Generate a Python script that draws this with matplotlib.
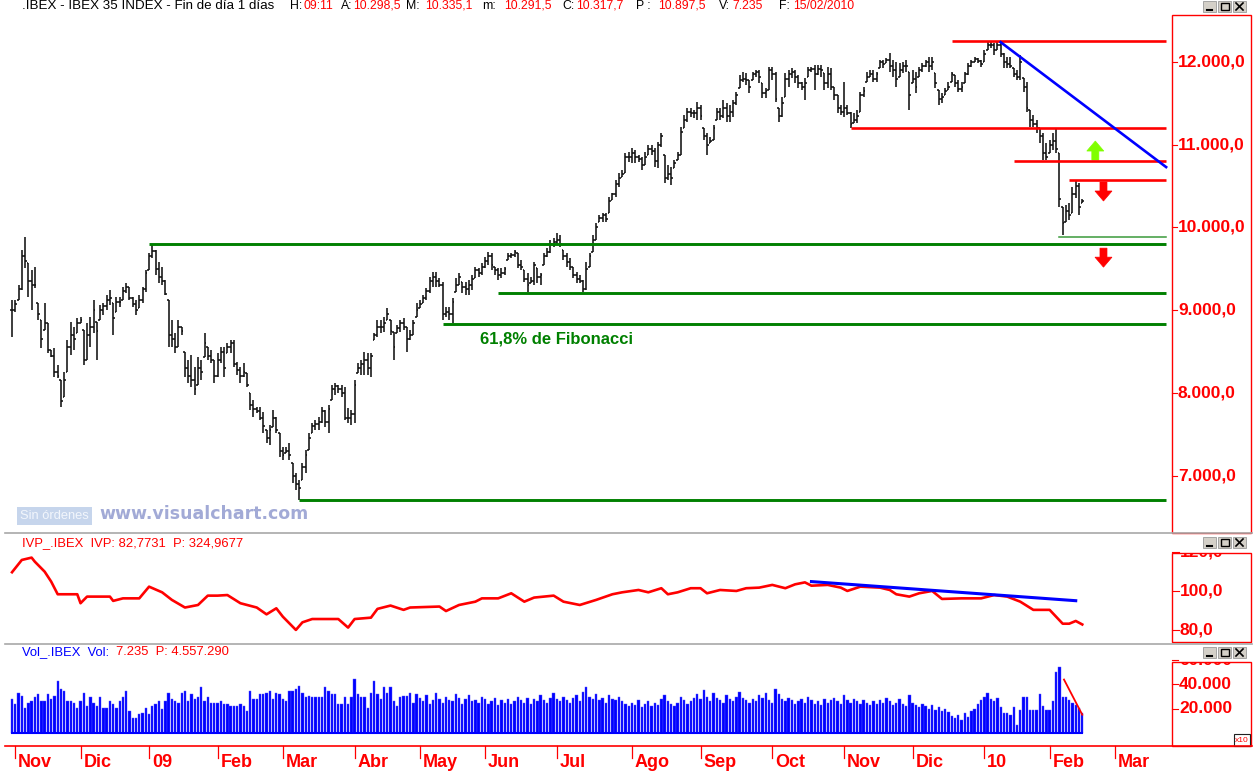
import numpy as np
import pandas as pd
import matplotlib
matplotlib.use('Agg')
import matplotlib.pyplot as plt
from matplotlib.collections import LineCollection
from matplotlib.patches import Rectangle, Polygon
from matplotlib.lines import Line2D
from matplotlib.transforms import blended_transform_factory, ScaledTranslation

plt.rcParams['font.family'] = ['Liberation Sans', 'DejaVu Sans']

W, H = 1257, 775

# trading days (Bolsa de Madrid)
holidays = ['2008-12-25', '2008-12-26', '2009-01-01', '2009-04-10', '2009-04-13',
            '2009-05-01', '2009-12-25', '2010-01-01']
dates = pd.bdate_range('2008-10-31', '2010-03-31')
dates = dates[~dates.isin(pd.to_datetime(holidays))]

high = [
    9120, 9120, 9300, 9730, 9890, 9570, 9490, 9520, 9090, 8880,
    9090, 8850, 8520, 8540, 8340, 8160, 8250, 8640, 8860, 8800,
    8910, 8920, 8760, 8850, 8920, 9120, 8860, 9060, 9090, 9180,
    9240, 9090, 9160, 9160, 9280, 9330, 9280, 9160, 9120, 9180,
    9280, 9490, 9690, 9790, 9730, 9580, 9520, 9370, 9120, 8880,
    8720, 8880, 8800, 8490, 8400, 8460, 8310, 8430, 8400, 8720,
    8560, 8520, 8400, 8480, 8560, 8560, 8600, 8640, 8640, 8370,
    8310, 8360, 8240, 8000, 7910, 7830, 7830, 7770, 7550, 7610,
    7790, 7710, 7520, 7350, 7350, 7390, 7150, 7030, 6950, 7150,
    7310, 7520, 7640, 7670, 7710, 7830, 7790, 7850, 8100, 8120,
    8100, 8100, 8070, 7820, 7790, 8160, 8360, 8400, 8490, 8480,
    8480, 8720, 8880, 8880, 8920, 9030, 8880, 8740, 8820, 8880,
    8910, 8800, 8760, 8880, 9090, 9120, 9180, 9270, 9400, 9460,
    9460, 9390, 9340, 9040, 9040, 9150, 9390, 9450, 9340, 9340,
    9370, 9430, 9520, 9510, 9570, 9640, 9700, 9690, 9520, 9510,
    9510, 9520, 9690, 9690, 9730, 9690, 9610, 9490, 9450, 9400,
    9580, 9510, 9450, 9690, 9750, 9850, 9870, 9930, 9910, 9730,
    9690, 9630, 9520, 9460, 9430, 9370, 9580, 9690, 9910, 10050,
    10150, 10180, 10180, 10370, 10420, 10570, 10660, 10700, 10900, 10910,
    10960, 10940, 10880, 10850, 10910, 11000, 11000, 10960, 11030, 11140,
    10880, 10760, 10730, 10820, 10910, 11220, 11360, 11440, 11440, 11420,
    11520, 11480, 11200, 11140, 11090, 11240, 11440, 11440, 11540, 11510,
    11480, 11540, 11640, 11840, 11880, 11870, 11780, 11880, 11900, 11900,
    11750, 11690, 11940, 11940, 11880, 11440, 11580, 11870, 11900, 11930,
    11900, 11840, 11760, 11810, 11940, 11940, 11960, 11960, 11960, 11870,
    11940, 11930, 11700, 11600, 11480, 11760, 11480, 11400, 11380, 11420,
    11640, 11700, 11880, 11900, 11900, 11880, 12020, 12020, 12050, 12110,
    12020, 12000, 11990, 12000, 12020, 11880, 11900, 11880, 11940, 11990,
    12020, 12060, 12060, 11870, 11660, 11630, 11690, 11760, 11880, 11840,
    11780, 11760, 11880, 11990, 12020, 12060, 12050, 12020, 12150, 12240,
    12240, 12230, 12240, 12230, 12110, 12060, 12060, 11930, 11900, 12090,
    11810, 11760, 11420, 11360, 11300, 11200, 11140, 11020, 11060, 11140,
    11200, 10900, 10250, 10270, 10300, 10490, 10570, 10540, 10340,
]
low = [
    8680, 8980, 9120, 9240, 9510, 9160, 9000, 9270, 8880, 8540,
    8760, 8480, 8430, 8190, 8180, 7830, 7950, 8250, 8460, 8520,
    8720, 8850, 8340, 8400, 8560, 8720, 8400, 8880, 8940, 9000,
    9060, 8700, 8980, 9040, 9120, 9210, 9120, 9040, 8940, 9030,
    9090, 9220, 9490, 9630, 9430, 9330, 9300, 9180, 8560, 8560,
    8480, 8560, 8700, 8190, 8120, 8070, 7970, 8100, 8160, 8430,
    8400, 8360, 8120, 8190, 8360, 8190, 8480, 8480, 8310, 8220,
    8120, 8190, 8070, 7790, 7710, 7760, 7670, 7520, 7390, 7370,
    7590, 7520, 7230, 7190, 7270, 7190, 6910, 6830, 6710, 6950,
    7030, 7310, 7520, 7550, 7550, 7640, 7590, 7520, 7910, 7970,
    8000, 7950, 7670, 7640, 7610, 7640, 8240, 8220, 8220, 8220,
    8190, 8640, 8680, 8720, 8740, 8880, 8700, 8400, 8720, 8740,
    8760, 8490, 8640, 8700, 8920, 9030, 9090, 9120, 9210, 9280,
    9280, 9280, 8880, 8920, 8880, 8840, 9220, 9300, 9210, 9180,
    9180, 9240, 9390, 9400, 9430, 9510, 9550, 9490, 9430, 9370,
    9390, 9430, 9610, 9630, 9640, 9510, 9490, 9340, 9220, 9330,
    9300, 9330, 9300, 9550, 9640, 9690, 9760, 9790, 9760, 9610,
    9520, 9490, 9390, 9330, 9330, 9220, 9240, 9520, 9700, 9850,
    10070, 10070, 10070, 10180, 10330, 10370, 10490, 10610, 10660, 10790,
    10780, 10780, 10790, 10700, 10760, 10880, 10880, 10730, 10720, 10970,
    10540, 10570, 10510, 10720, 10820, 10880, 11200, 11280, 11340, 11320,
    11300, 11300, 11060, 10880, 11020, 11060, 11300, 11300, 11320, 11280,
    11280, 11340, 11480, 11690, 11760, 11720, 11630, 11780, 11820, 11750,
    11570, 11570, 11660, 11780, 11520, 11280, 11340, 11580, 11700, 11810,
    11750, 11690, 11660, 11540, 11820, 11880, 11660, 11840, 11820, 11660,
    11690, 11660, 11540, 11380, 11360, 11340, 11360, 11200, 11260, 11260,
    11400, 11580, 11760, 11820, 11760, 11760, 11930, 11930, 11990, 11880,
    11820, 11700, 11820, 11870, 11880, 11420, 11750, 11630, 11820, 11880,
    11940, 11880, 11900, 11690, 11480, 11510, 11600, 11660, 11760, 11700,
    11640, 11640, 11750, 11840, 11940, 12000, 11990, 11940, 12000, 12150,
    12170, 12090, 12150, 12060, 11930, 11930, 11930, 11820, 11780, 11780,
    11640, 11400, 11220, 11220, 11140, 11020, 10820, 10820, 10900, 10940,
    10900, 10250, 9910, 10070, 10090, 10180, 10360, 10150, 10290,
]
close = [
    9000, 9080, 9250, 9650, 9600, 9350, 9300, 9300, 8950, 8650,
    8850, 8520, 8450, 8250, 8200, 7900, 8150, 8550, 8700, 8650,
    8850, 8880, 8400, 8700, 8800, 9000, 8750, 9000, 9050, 9120,
    9150, 8900, 9100, 9100, 9230, 9280, 9150, 9080, 9000, 9120,
    9250, 9450, 9650, 9720, 9500, 9400, 9350, 9200, 8700, 8650,
    8550, 8800, 8750, 8300, 8200, 8150, 8050, 8300, 8250, 8600,
    8450, 8400, 8200, 8400, 8500, 8300, 8550, 8600, 8350, 8280,
    8200, 8250, 8100, 7850, 7800, 7780, 7700, 7600, 7450, 7550,
    7700, 7550, 7300, 7250, 7300, 7250, 7000, 6900, 6850, 7100,
    7250, 7450, 7600, 7620, 7650, 7780, 7650, 7800, 8050, 8080,
    8050, 8000, 7700, 7700, 7750, 8100, 8300, 8350, 8400, 8300,
    8450, 8700, 8800, 8800, 8850, 8950, 8750, 8550, 8780, 8850,
    8800, 8650, 8700, 8850, 9000, 9080, 9150, 9230, 9350, 9400,
    9350, 9300, 8950, 8980, 8950, 9100, 9300, 9400, 9280, 9250,
    9300, 9380, 9480, 9450, 9520, 9600, 9650, 9550, 9480, 9420,
    9450, 9500, 9650, 9670, 9700, 9550, 9520, 9380, 9300, 9350,
    9550, 9400, 9420, 9650, 9700, 9800, 9820, 9850, 9800, 9650,
    9580, 9520, 9420, 9380, 9350, 9250, 9500, 9650, 9850, 10000,
    10120, 10150, 10100, 10320, 10400, 10520, 10600, 10650, 10850, 10850,
    10900, 10850, 10830, 10750, 10850, 10950, 10920, 10800, 11000, 11100,
    10600, 10650, 10600, 10780, 10880, 11150, 11300, 11400, 11380, 11380,
    11450, 11350, 11100, 11000, 11050, 11200, 11400, 11350, 11450, 11350,
    11400, 11500, 11600, 11780, 11800, 11780, 11700, 11850, 11880, 11820,
    11620, 11650, 11900, 11850, 11550, 11350, 11500, 11800, 11850, 11880,
    11820, 11750, 11700, 11750, 11900, 11920, 11850, 11920, 11900, 11750,
    11850, 11700, 11600, 11450, 11400, 11450, 11380, 11250, 11300, 11350,
    11600, 11650, 11820, 11860, 11800, 11850, 12000, 11980, 12020, 11950,
    11900, 11800, 11900, 11950, 11950, 11600, 11800, 11700, 11900, 11950,
    12000, 11950, 12000, 11750, 11550, 11580, 11650, 11700, 11850, 11750,
    11680, 11700, 11850, 11950, 12000, 12040, 12010, 11980, 12100, 12200,
    12200, 12150, 12200, 12100, 12000, 11980, 11950, 11850, 11820, 12000,
    11700, 11450, 11300, 11250, 11200, 11100, 10900, 10850, 11000, 11050,
    10950, 10350, 10050, 10200, 10150, 10400, 10500, 10250, 10320,
]
volume = [
    27800, 23600, 33300, 30500, 20800, 25000, 26400, 29200, 31900, 26400,
    26400, 31900, 27800, 30500, 43000, 36100, 34700, 26400, 26400, 25000,
    20800, 26400, 33300, 22200, 29200, 25000, 22200, 29200, 20800, 20800,
    26400, 23600, 20800, 26400, 29200, 34700, 18000, 12500, 12500, 15300,
    16700, 20800, 15300, 22200, 23600, 26400, 19400, 26400, 33300, 27800,
    26400, 25000, 33300, 34700, 26400, 31900, 27800, 29200, 37500, 26400,
    29200, 25000, 25000, 25000, 26400, 23600, 23600, 22200, 22200, 22200,
    23600, 22200, 18000, 34700, 27800, 27800, 31900, 31900, 33300, 34700,
    27800, 33300, 31900, 27800, 26400, 34700, 34700, 36100, 38900, 33300,
    29200, 30500, 29200, 29200, 29200, 29200, 37500, 34700, 31900, 31900,
    23600, 23600, 29200, 23600, 29200, 44400, 31900, 29200, 29200, 20800,
    33300, 43000, 31900, 27800, 37500, 33300, 37500, 26400, 22200, 29200,
    30500, 30500, 33300, 25000, 31900, 29000, 26000, 31000, 24000, 27000,
    33000, 28000, 25000, 30000, 27000, 26000, 32000, 29000, 24000, 28000,
    31000, 26000, 27000, 25000, 30000, 28000, 24000, 26000, 29000, 23000,
    27000, 25000, 28000, 24000, 26000, 30000, 27000, 25000, 29000, 24000,
    28000, 26000, 31000, 27000, 25000, 29000, 33000, 28000, 26000, 30000,
    27000, 25000, 29000, 31000, 26000, 34000, 38000, 30000, 28000, 32000,
    27000, 29000, 25000, 31000, 28000, 27000, 30000, 26000, 24000, 22000,
    25000, 23000, 27000, 21000, 24000, 26000, 22000, 25000, 23000, 28000,
    31000, 26000, 24000, 22000, 25000, 30000, 27000, 24000, 26000, 29000,
    32000, 28000, 35000, 30000, 26000, 33000, 29000, 27000, 25000, 31000,
    28000, 26000, 30000, 34000, 29000, 27000, 25000, 28000, 26000, 31000,
    29000, 33000, 27000, 25000, 36000, 32000, 28000, 26000, 29000, 27000,
    24000, 26000, 28000, 25000, 30000, 27000, 24000, 26000, 23000, 28000,
    25000, 27000, 29000, 26000, 24000, 31000, 27000, 25000, 28000, 26000,
    24000, 27000, 25000, 23000, 26000, 24000, 27000, 25000, 29000, 26000,
    23000, 25000, 28000, 24000, 22000, 31000, 25000, 23000, 21000, 24000,
    22000, 20000, 23000, 19000, 21000, 18000, 20000, 17000, 14000, 12000,
    15000, 11000, 16000, 13000, 18000, 20000, 24000, 27000, 30000, 33000,
    28000, 26000, 29000, 21700, 16700, 16700, 15000, 21700, 6700, 19200,
    29200, 29200, 19200, 19200, 19200, 31700, 22500, 19200, 19200, 26700,
    50000, 54200, 29200, 29200, 27500, 25000, 23300, 20800, 16700,
]

# IVP indicator (breakpoints: trading-day index, value)
ivp_idx = [0, 3, 6, 7, 10, 12, 14, 20, 21, 23, 30, 31, 34, 39, 42, 46, 49, 53, 57, 60,
           63, 66, 70, 75, 78, 81, 83, 87, 89, 92, 100, 103, 105, 110, 112, 116, 120, 122,
           131, 133, 137, 142, 144, 149, 153, 157, 160, 166, 169, 174, 179, 184, 187, 192,
           195, 199, 201, 204, 208, 211, 213, 217, 222, 225, 229, 233, 237, 240, 243, 245,
           250, 254, 256, 260, 266, 269, 271, 275, 278, 282, 285, 291, 297, 301, 305, 309,
           313, 318, 322, 324, 326, 328]
ivp_val = [109.6, 115.9, 117.1, 115.0, 109.9, 104.8, 98.3, 98.3, 93.7, 97.1, 97.1, 94.9,
           96.2, 96.2, 102.2, 99.3, 95.4, 91.5, 92.8, 97.6, 97.6, 97.9, 93.7, 91.5, 88.0,
           91.1, 86.8, 80.0, 83.9, 85.6, 85.6, 81.2, 85.6, 86.3, 90.8, 92.5, 90.3, 91.5,
           92.0, 89.7, 92.8, 94.5, 96.2, 96.2, 98.8, 94.5, 96.6, 97.6, 94.5, 92.8, 95.4,
           98.3, 99.3, 100.5, 99.3, 101.4, 98.3, 99.3, 101.4, 101.4, 98.8, 100.5, 100.0,
           101.4, 101.7, 103.1, 101.4, 103.4, 104.4, 102.7, 103.1, 101.7, 100.0, 102.2,
           101.7, 100.5, 98.3, 97.1, 98.8, 100.0, 95.9, 96.2, 96.2, 97.9, 97.1, 94.5,
           90.3, 90.3, 83.2, 83.2, 84.6, 82.8]
ivp_trend_idx = [245, 326]
ivp_trend_val = [104.8, 95.0]

# drawn studies on the price chart
red_levels = [12250, 11200, 10800, 10570]
red_starts = [288, 257, 307, 324]
green_levels = [9800, 9205, 8830, 6700]
green_starts = [42, 149, 132, 88]
thin_level, thin_start = 9890, 321
line_end = 353.7
trend_idx = [303, 353.7]
trend_val = [12240, 10730]
arrow_idx = [332, 334.5, 334.5]
arrow_tip = [11045, 10320, 9520]
arrow_up = [True, False, False]
arrow_col = ['#80ff00', '#ff0000', '#ff0000']
vol_line_idx = [322.4, 328]
vol_line_val = [44000, 15000]

price_ticks = [12000, 11000, 10000, 9000, 8000, 7000]
ivp_ticks = [120, 100, 80]
vol_ticks = [60000, 40000, 20000]
month_abbr = {2: 'Feb', 3: 'Mar', 4: 'Abr', 5: 'May', 6: 'Jun', 7: 'Jul', 8: 'Ago',
              9: 'Sep', 10: 'Oct', 11: 'Nov', 12: 'Dic'}

RED = '#ff0000'
GREEN = '#008000'
BLUE = '#0000ff'

fig = plt.figure(figsize=(W / 100, H / 100), dpi=100)
fig.patch.set_facecolor('white')


def rect(x0, y0, x1, y1):
    return [x0 / W, 1 - y1 / H, (x1 - x0) / W, (y1 - y0) / H]


def fline(xs, ys, **kw):
    fig.add_artist(Line2D([x / W for x in xs], [1 - y / H for y in ys],
                          transform=fig.transFigure, **kw))


def ftext(x, y, s, **kw):
    return fig.text(x / W, 1 - y / H, s, **kw)


def fbox(x0, y0, x1, y1, **kw):
    r = Rectangle((x0 / W, 1 - y1 / H), (x1 - x0) / W, (y1 - y0) / H,
                  transform=fig.transFigure, **kw)
    fig.add_artist(r)
    return r


def es_num(v, dec):
    s = f"{v:,.{dec}f}"
    return s.replace(',', '#').replace('.', ',').replace('#', '.')


def scale_box(axis, box, ticks, dec, x_tick_end, x_lab):
    # red tick marks and labels inside the right-hand scale box, clipped to it
    bt = blended_transform_factory(fig.transFigure, axis.transData)
    for v in ticks:
        axis.add_line(Line2D([1172 / W, x_tick_end / W], [v, v], transform=bt,
                             color=RED, lw=0.8, clip_on=False))
        t = fig.text(x_lab / W, v, es_num(v, dec), transform=bt, color=RED,
                     fontsize=12.5, fontweight='bold', va='center', ha='left')
        t.set_clip_on(True)
        t.set_clip_path(box)


XL = (-2.15, 355.5)
n = len(close)
idx = np.arange(n)

# ---------------- price panel ----------------
ax = fig.add_axes(rect(5, 12, 1172, 532))
ax.set_xlim(XL)
ax.set_ylim(6318, 12605)
ax.axis('off')

hi = np.array(high)
lo = np.array(low)
cl = np.array(close)
op = np.clip(np.r_[cl[0], cl[:-1]], lo, hi)
segs = []
for i in idx:
    segs.append([(i, lo[i]), (i, hi[i])])
    segs.append([(i - 0.5, op[i]), (i, op[i])])
    segs.append([(i, cl[i]), (i + 0.5, cl[i])])
ax.add_collection(LineCollection(segs, colors='#111111', linewidths=1.15))

for lvl, st in zip(green_levels, green_starts):
    ax.plot([st, line_end], [lvl, lvl], color=GREEN, lw=2.1, solid_capstyle='butt')
ax.plot([thin_start, line_end], [thin_level, thin_level], color='#3a9a3a', lw=1.1)
for lvl, st in zip(red_levels, red_starts):
    ax.plot([st, line_end], [lvl, lvl], color=RED, lw=1.9, solid_capstyle='butt')
ax.plot(trend_idx, trend_val, color=BLUE, lw=1.9)

for xi, tip, up, c in zip(arrow_idx, arrow_tip, arrow_up, arrow_col):
    s = -1 if up else 1
    pts = [(0, 0), (-8.5, 10), (-3.5, 10), (-3.5, 19), (3.5, 19), (3.5, 10), (8.5, 10)]
    pts = [(px / 100, s * py / 100) for px, py in pts]
    tr = fig.dpi_scale_trans + ScaledTranslation(xi, tip, ax.transData)
    ax.add_patch(Polygon(pts, closed=True, transform=tr, fc=c, ec=c, lw=0.5))

ax.text(143.5, 8650, '61,8% de Fibonacci', color=GREEN, fontsize=12,
        fontweight='bold', va='center', ha='left')

box1 = fbox(1172, 15, 1251, 533, fill=False, ec=RED, lw=1)
scale_box(ax, box1, price_ticks, 1, 1177, 1178)

# watermark
ftext(20, 516, 'Sin órdenes', color='#f2f6fc', fontsize=9.3, va='center', ha='left',
      bbox=dict(boxstyle='square,pad=0.22', fc='#c6d5ec', ec='none'))
ftext(99, 514, 'www.visualchart.com', color='#a2aad6', fontsize=12.5,
      fontweight='bold', family='DejaVu Sans', va='center', ha='left')

# header
header = [(22, '.IBEX - IBEX 35 INDEX - Fin de día 1 días', 'black'), (290, 'H:', 'black'),
          (303, '09:11', RED), (341, 'A:', 'black'), (353, '10.298,5', RED),
          (406, 'M:', 'black'), (425, '10.335,1', RED), (482, 'm:', 'black'),
          (504, '10.291,5', RED), (562, 'C:', 'black'), (576, '10.317,7', RED),
          (636, 'P :', 'black'), (658, '10.897,5', RED), (719, 'V:', 'black'),
          (732, '7.235', RED), (779, 'F:', 'black'), (793, '15/02/2010', RED)]
for k, (x, s, c) in enumerate(header):
    ftext(x, 6, s, color=c, fontsize=9.6 if k == 0 else 8.8, va='center', ha='left')

# ---------------- IVP panel ----------------
ax2 = fig.add_axes(rect(5, 535, 1172, 643))
ax2.set_xlim(XL)
ax2.set_ylim(73.3, 128.7)
ax2.axis('off')
ax2.plot(ivp_idx, ivp_val, color=RED, lw=1.9)
ax2.plot(ivp_trend_idx, ivp_trend_val, color=BLUE, lw=2.2)
box2 = fbox(1172, 553, 1251, 642, fill=False, ec=RED, lw=1)
scale_box(ax2, box2, ivp_ticks, 1, 1179, 1180)
ftext(22, 543, 'IVP_.IBEX  IVP: 82,7731  P: 324,9677', color=RED, fontsize=9.4,
      va='center', ha='left')

# ---------------- volume panel ----------------
ax3 = fig.add_axes(rect(5, 645, 1172, 745))
ax3.set_xlim(XL)
ax3.set_ylim(-10000, 72500)
ax3.axis('off')
ax3.bar(idx, volume, width=0.72, color=BLUE, edgecolor='#5050ff', linewidth=0.3)
ax3.plot([idx[0], idx[-1]], [0, 0], color=BLUE, lw=1.5)
ax3.plot(vol_line_idx, vol_line_val, color=RED, lw=1.3)
box3 = fbox(1172, 662, 1251, 746, fill=False, ec=RED, lw=1)
scale_box(ax3, box3, vol_ticks, 0, 1178, 1179)
fbox(1234, 734, 1250, 746, fill=True, fc='white', ec='#202020', lw=0.8)
ftext(1242, 740.5, 'x10', color=RED, fontsize=6, va='center', ha='center')
ftext(22, 652, 'Vol_.IBEX  Vol:', color=BLUE, fontsize=9.4, va='center', ha='left')
ftext(116, 652, '7.235  P: 4.557.290', color=RED, fontsize=9.4, va='center', ha='left')

# separators and time axis
fline([5, 1252], [533, 533], color='#a8a8a8', lw=1.2)
fline([5, 1252], [643.5, 643.5], color='#a8a8a8', lw=1.2)
fline([5, 1252], [746, 746], color=RED, lw=1.2)

btx = blended_transform_factory(ax3.transData, fig.transFigure)
for k in range(1, len(dates)):
    if dates[k].month != dates[k - 1].month and k <= XL[1]:
        d = dates[k]
        lab = d.strftime('%y') if d.month == 1 else month_abbr[d.month]
        ax3.add_line(Line2D([k, k], [1 - 746 / H, 1 - 758 / H], transform=btx,
                            color=RED, lw=0.9, clip_on=False))
        ax3.text(k + 0.9, 1 - 767 / H, lab, transform=btx, color=RED, fontsize=13,
                 fontweight='bold', va='baseline', ha='left', clip_on=False)

# window buttons
for ytop in (1, 537, 647):
    for k in range(3):
        x0 = 1203 + k * 15
        fbox(x0, ytop, x0 + 13, ytop + 11, fill=True, fc='#d4d0c8', ec='#9a9a9a', lw=0.6)
        cx, cy = x0 + 6.5, ytop + 5.5
        if k == 0:
            fline([cx - 3, cx + 2], [cy + 3, cy + 3], color='black', lw=1.5)
        elif k == 1:
            fbox(cx - 4, cy - 4, cx + 4, cy + 3.5, fill=False, ec='black', lw=1)
        else:
            fline([cx - 3.5, cx + 3.5], [cy - 3.5, cy + 3.5], color='black', lw=1.2)
            fline([cx - 3.5, cx + 3.5], [cy + 3.5, cy - 3.5], color='black', lw=1.2)

fig.savefig('out.png', dpi=100)
